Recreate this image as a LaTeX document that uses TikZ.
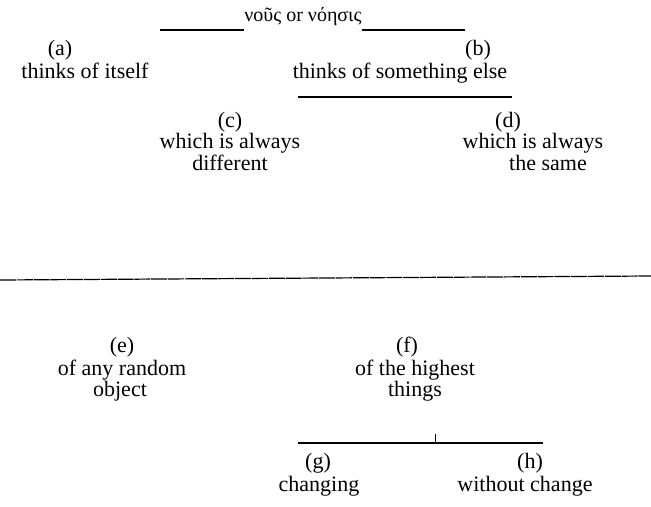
\documentclass[tikz,border=0pt]{standalone}
\usepackage{fontspec}
\setmainfont{Liberation Serif}
\begin{document}
\begin{tikzpicture}[x=0.75pt,y=-0.75pt,
  lbl/.style={inner sep=0pt,font=\fontsize{16.5}{19}\selectfont,text height=0.72em,text depth=0.22em,anchor=center},
  titlelbl/.style={lbl,font=\fontsize{15}{18}\selectfont},
  rule/.style={line width=0.8pt,black},
  brokenrule/.style={line width=0.9pt,black,dash pattern=on 12pt off 0.6pt}]
\useasboundingbox (0,0) rectangle (651,507);
% title
\node[titlelbl] (title) at (303,18) {νοῦς or νόησις};
\coordinate (tl) at (160,30);
\coordinate (tr) at (465,30);
\draw[rule] (tl) -- (title.south west |- tl);
\draw[rule] (title.south east |- tr) -- (tr);
% first division
\node[lbl] (a) at (60,52) {(a)};
\node[lbl] (a1) at (85,75) {thinks of itself};
\node[lbl] (b) at (478,52) {(b)};
\node[lbl] (b1) at (400,75) {thinks of something else};
\coordinate (l1a) at (298,97);
\coordinate (l1b) at (512,97);
\draw[rule] (l1a) -- (l1b);
\node[lbl] (c) at (230,124) {(c)};
\node[lbl] (c1) at (230,145) {which is always};
\node[lbl] (c2) at (230,167) {different};
\node[lbl] (d) at (508,124) {(d)};
\node[lbl] (d1) at (533,145) {which is always};
\node[lbl] (d2) at (548,167) {the same};
% separator
\coordinate (sepL) at (0,280);
\coordinate (sepR) at (651,276);
\draw[brokenrule] (sepL) -- (sepR);
% second division
\node[lbl] (e) at (122,349) {(e)};
\node[lbl] (e1) at (122,372) {of any random};
\node[lbl] (e2) at (120,393) {object};
\node[lbl] (f) at (407,349) {(f)};
\node[lbl] (f1) at (415,372) {of the highest};
\node[lbl] (f2) at (415,393) {things};
\coordinate (l2a) at (298,443);
\coordinate (l2b) at (543,443);
\coordinate (tickTop) at (435,434);
\coordinate (tickBot) at (435,443);
\draw[rule] (l2a) -- (l2b);
\draw[line width=0.5pt] (tickTop) -- (tickBot);
\node[lbl] (g) at (318,465) {(g)};
\node[lbl] (g1) at (319,488) {changing};
\node[lbl] (h) at (530,465) {(h)};
\node[lbl] (h1) at (525,488) {without change};
\end{tikzpicture}
\end{document}
